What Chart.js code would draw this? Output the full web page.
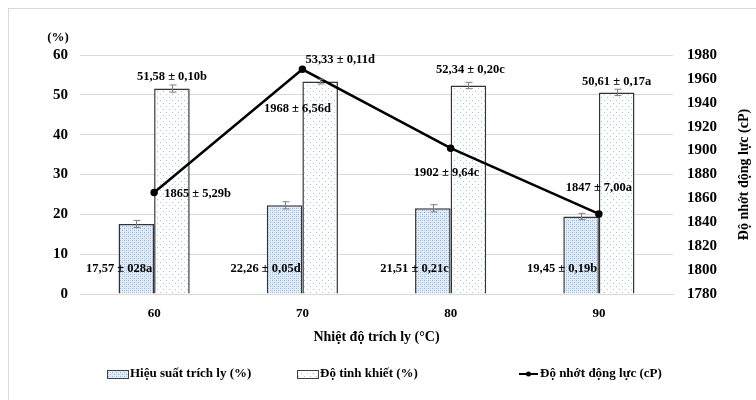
<!DOCTYPE html>
<html>
<head>
<meta charset="utf-8">
<script src="https://cdn.jsdelivr.net/npm/chart.js@4"></script>
<style>
  html, body { margin: 0; padding: 0; background: #fff; }
  #wrap { width: 756px; height: 400px; }
</style>
</head>
<body>
<div id="wrap"><canvas id="chart" width="756" height="400"></canvas></div>
<script>
// Dữ liệu
const nhietDo = ["60", "70", "80", "90"];
const hieuSuat = [17.57, 22.26, 21.51, 19.45];
const doTinhKhiet = [51.58, 53.33, 52.34, 50.61];
const doNhot = [1865, 1968, 1902, 1847];
// thanh sai số
const saiSoHieuSuat = [0.9, 0.9, 0.9, 0.8];
const saiSoTinhKhiet = [0.9, 0.6, 0.8, 0.8];

const nhanHieuSuat = ["17,57 ± 028a", "22,26 ± 0,05d", "21,51 ± 0,21c", "19,45 ± 0,19b"];
const nhanTinhKhiet = ["51,58 ± 0,10b", "53,33 ± 0,11d", "52,34 ± 0,20c", "50,61 ± 0,17a"];
const nhanDoNhot = ["1865 ± 5,29b", "1968 ± 6,56d", "1902 ± 9,64c", "1847 ± 7,00a"];

const tenSeries = ["Hiệu suất trích ly (%)", "Độ tinh khiết (%)", "Độ nhớt động lực (cP)"];

const FONT = "'Liberation Serif', 'Times New Roman', serif";

// Tạo hoa văn chấm cho cột
function patternDay() {
  const c = document.createElement("canvas");
  c.width = 4; c.height = 4;
  const g = c.getContext("2d");
  g.fillStyle = "#e3edf9";
  g.fillRect(0, 0, 4, 4);
  g.fillStyle = "#8fb6e3";
  g.fillRect(0, 0, 1, 1);
  g.fillRect(2, 2, 1, 1);
  g.fillStyle = "#b7d0ee";
  g.fillRect(2, 0, 1, 1);
  g.fillRect(0, 2, 1, 1);
  return g.createPattern(c, "repeat");
}
function patternThua() {
  const c = document.createElement("canvas");
  c.width = 6; c.height = 6;
  const g = c.getContext("2d");
  g.fillStyle = "#ffffff";
  g.fillRect(0, 0, 6, 6);
  g.fillStyle = "#a3c4ea";
  g.fillRect(1, 1, 1, 1);
  g.fillRect(4, 4, 1, 1);
  return g.createPattern(c, "repeat");
}
const fill1 = patternDay();
const fill2 = patternThua();

// Vẽ khung, thanh sai số, nhãn, chú thích
const veThem = {
  id: "veThem",
  beforeDraw(chart) {
    const ctx = chart.ctx;
    ctx.save();
    ctx.fillStyle = "#fff";
    ctx.fillRect(0, 0, chart.width, chart.height);
    ctx.strokeStyle = "#d9d9d9";
    ctx.lineWidth = 1;
    ctx.strokeRect(8.5, 8.5, 800, 500);
    ctx.restore();
  },
  afterDatasetsDraw(chart) {
    const ctx = chart.ctx;
    const y = chart.scales.y;
    const area = chart.chartArea;
    ctx.save();

    // thanh sai số
    ctx.strokeStyle = "#7f7f7f";
    ctx.lineWidth = 1;
    [[0, hieuSuat, saiSoHieuSuat], [1, doTinhKhiet, saiSoTinhKhiet]].forEach(([di, vals, errs]) => {
      chart.getDatasetMeta(di).data.forEach((bar, i) => {
        const x = Math.round(bar.x) + 0.5;
        const yt = y.getPixelForValue(vals[i] + errs[i]);
        const yb = y.getPixelForValue(vals[i] - errs[i]);
        ctx.beginPath();
        ctx.moveTo(x, yt); ctx.lineTo(x, yb);
        ctx.moveTo(x - 3, yt); ctx.lineTo(x + 4, yt);
        ctx.moveTo(x - 3, yb); ctx.lineTo(x + 4, yb);
        ctx.stroke();
      });
    });

    ctx.fillStyle = "#000";
    ctx.font = "bold 12.5px " + FONT;
    ctx.textBaseline = "middle";

    // nhãn hiệu suất
    ctx.textAlign = "right";
    chart.getDatasetMeta(0).data.forEach((bar, i) => {
      ctx.fillText(nhanHieuSuat[i], bar.x + 16, area.bottom - 25);
    });

    // nhãn độ tinh khiết
    const dx2 = [0, 20, 2, 0];
    const dy2 = [-12, -22, -16, -11];
    ctx.textAlign = "center";
    chart.getDatasetMeta(1).data.forEach((bar, i) => {
      ctx.fillText(nhanTinhKhiet[i], bar.x + dx2[i], bar.y + dy2[i]);
    });

    // nhãn độ nhớt
    const dx3 = [10, -5, -4, 0];
    const dy3 = [1, 39, 25, -26];
    const al3 = ["left", "center", "center", "center"];
    chart.getDatasetMeta(2).data.forEach((pt, i) => {
      ctx.textAlign = al3[i];
      ctx.fillText(nhanDoNhot[i], pt.x + dx3[i], pt.y + dy3[i]);
    });

    // tiêu đề trục
    ctx.font = "bold 13px " + FONT;
    ctx.textAlign = "center";
    ctx.fillText("(%)", 58, 38);
    ctx.font = "bold 14px " + FONT;
    ctx.fillText("Nhiệt độ trích ly (°C)", (area.left + area.right) / 2, 337);
    ctx.save();
    ctx.translate(744, (area.top + area.bottom) / 2);
    ctx.rotate(-Math.PI / 2);
    ctx.fillText("Độ nhớt động lực (cP)", 0, 0);
    ctx.restore();

    // chú thích
    const ly = 374;
    ctx.font = "bold 13px " + FONT;
    ctx.textAlign = "left";
    ctx.lineWidth = 1;
    ctx.strokeStyle = "#404040";
    ctx.fillStyle = fill1;
    ctx.fillRect(107, ly - 4, 21, 8);
    ctx.strokeRect(107.5, ly - 3.5, 21, 8);
    ctx.fillStyle = fill2;
    ctx.fillRect(297, ly - 4, 21, 8);
    ctx.strokeRect(297.5, ly - 3.5, 21, 8);
    ctx.strokeStyle = "#000";
    ctx.lineWidth = 2;
    ctx.beginPath();
    ctx.moveTo(519, ly); ctx.lineTo(538, ly);
    ctx.stroke();
    ctx.fillStyle = "#000";
    ctx.beginPath();
    ctx.arc(528.5, ly, 2.5, 0, Math.PI * 2);
    ctx.fill();
    ctx.fillText(tenSeries[0], 130, ly);
    ctx.fillText(tenSeries[1], 320, ly);
    ctx.fillText(tenSeries[2], 540, ly);

    ctx.restore();
  }
};

new Chart(document.getElementById("chart"), {
  data: {
    labels: nhietDo,
    datasets: [
      {
        type: "bar",
        label: tenSeries[0],
        data: hieuSuat,
        yAxisID: "y",
        backgroundColor: fill1,
        borderColor: "#333",
        borderWidth: 1.5,
        categoryPercentage: 0.48,
        barPercentage: 1,
        order: 2
      },
      {
        type: "bar",
        label: tenSeries[1],
        data: doTinhKhiet,
        yAxisID: "y",
        backgroundColor: fill2,
        borderColor: "#333",
        borderWidth: 1.5,
        categoryPercentage: 0.48,
        barPercentage: 1,
        order: 2
      },
      {
        type: "line",
        label: tenSeries[2],
        data: doNhot,
        yAxisID: "y1",
        borderColor: "#000",
        borderWidth: 2.5,
        backgroundColor: "#000",
        pointRadius: 2.5,
        pointBackgroundColor: "#000",
        tension: 0,
        order: 1
      }
    ]
  },
  options: {
    responsive: false,
    animation: false,
    layout: { padding: { top: 55, left: 0, right: 0, bottom: 0 } },
    plugins: {
      legend: { display: false },
      tooltip: { enabled: false }
    },
    scales: {
      x: {
        grid: { display: false, drawTicks: false },
        border: { color: "#d9d9d9" },
        ticks: { color: "#000", padding: 12, font: { family: FONT, size: 13, weight: "bold" } },
        afterFit(s) { s.height = 106; }
      },
      y: {
        position: "left",
        min: 0, max: 60,
        ticks: { stepSize: 10, color: "#000", padding: 12, font: { family: FONT, size: 15, weight: "bold" } },
        grid: { color: "#d9d9d9", drawTicks: false },
        border: { display: false },
        afterFit(s) { s.width = 80; }
      },
      y1: {
        position: "right",
        min: 1780, max: 1980,
        ticks: {
          stepSize: 20, color: "#000", padding: 14,
          font: { family: FONT, size: 15, weight: "bold" },
          callback: (v) => String(v)
        },
        grid: { display: false, drawTicks: false },
        border: { display: false },
        afterFit(s) { s.width = 83; }
      }
    }
  },
  plugins: [veThem]
});
</script>
</body>
</html>
